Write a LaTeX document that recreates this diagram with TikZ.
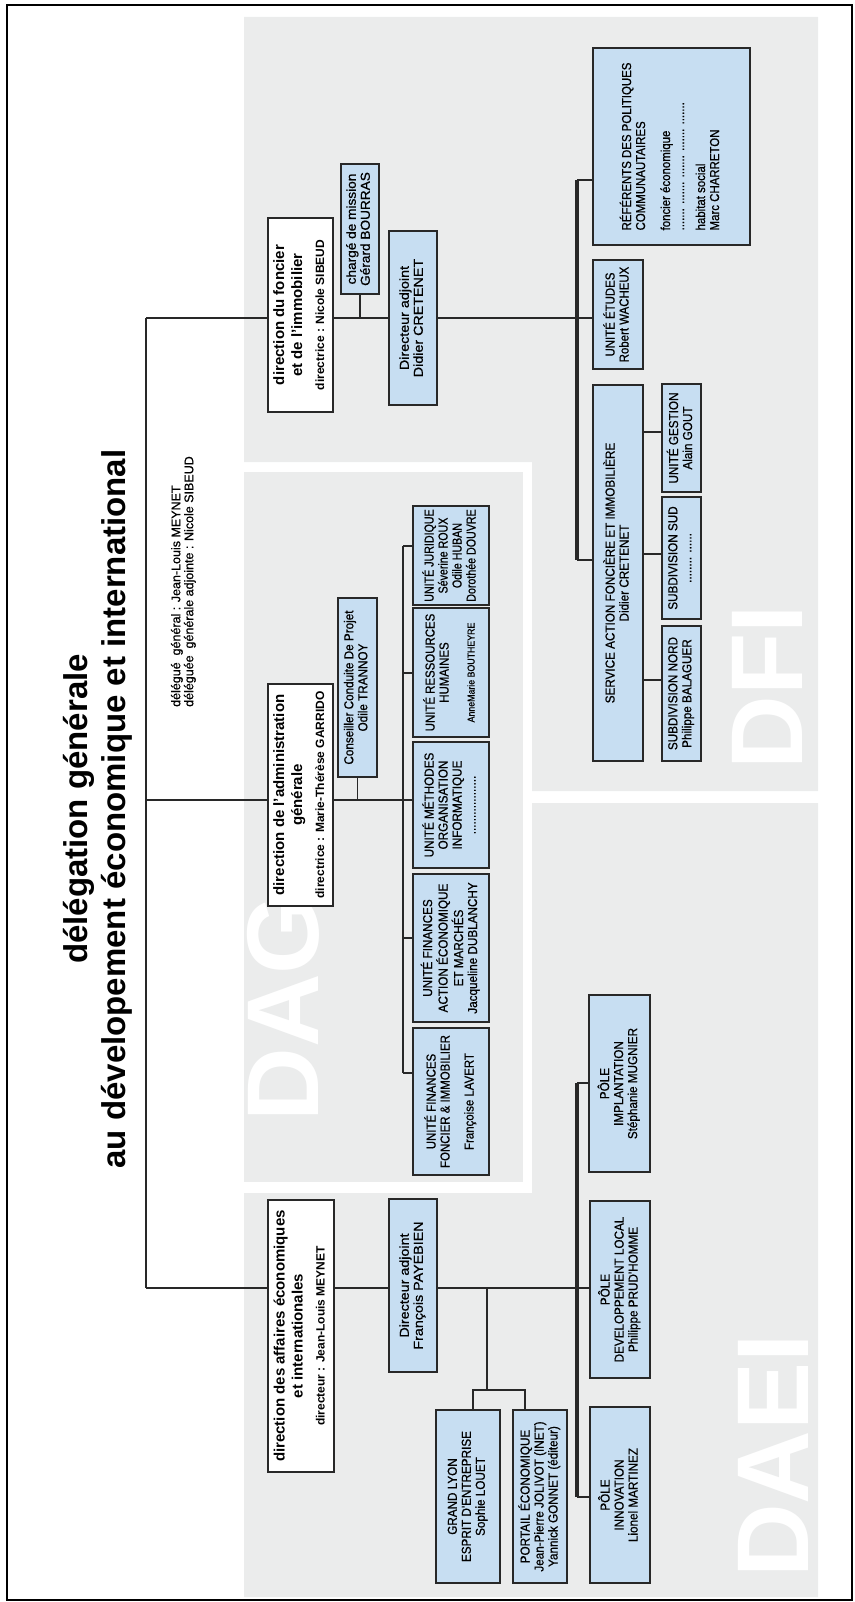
\documentclass[tikz,border=0pt]{standalone}
\usepackage{fontspec}
\setmainfont{Liberation Sans}
\newfontfamily\boxfont[FakeBold=0.8]{Liberation Sans}
\usepackage{graphicx}
\definecolor{panel}{RGB}{235,236,236}
\definecolor{bblue}{RGB}{199,222,242}
\definecolor{bline}{RGB}{40,40,40}
\newcommand\boxtxt[2][0.9]{\scalebox{#1}[1]{\begin{tabular}{@{}c@{}}#2\end{tabular}}}
\newcommand\boxtxtl[2][0.88]{\scalebox{#1}[1]{\begin{tabular}{@{}l@{}}#2\end{tabular}}}
\newcommand\wtxt[1]{\begin{tabular}{@{}c@{}}#1\end{tabular}}
\newcommand\smalltxt{\fontsize{12}{14}\selectfont}
\newcommand\bx[7]{\node[#2, minimum width={#6pt-#5pt}, minimum height={#4pt-#3pt}] (#1) at ({(#3+#4)/2},{(#5+#6)/2}) {#7};}
\pgfdeclarelayer{bg}
\pgfsetlayers{bg,main}
\tikzset{
  bb/.style={draw=bline, fill=bblue, line width=1.4pt, rotate=90, inner sep=0pt, font=\boxfont\fontsize{13}{14}\selectfont},
  wb/.style={draw=bline, fill=white, line width=1.4pt, rotate=90, inner sep=0pt, font=\fontsize{15}{18}\selectfont\bfseries},
  conn/.style={draw=bline, line width=1.2pt},
  barl/.style={draw=bline, line width=4pt},
  barm/.style={draw=bline, line width=2.6pt},
  bigl/.style={rotate=90, text=white, inner sep=0pt, font=\fontsize{102}{102}\selectfont\bfseries},
  ttl/.style={rotate=90, inner sep=0pt, font=\fontsize{33}{36}\selectfont\bfseries},
}
\begin{document}
\begin{tikzpicture}[x=1pt,y=-1pt]
\useasboundingbox (0,0) rectangle (854,1602);
\begin{pgfonlayer}{bg}
\fill[panel] (244,17) -- (818,17) -- (818,791) -- (532,791) -- (532,462) -- (244,462) -- cycle;
\fill[panel] (244,472) rectangle (523,1182);
\fill[panel] (532,803) -- (818,803) -- (818,1597) -- (244,1597) -- (244,1193) -- (532,1193) -- cycle;
\node[bigl, anchor=base] (lDFI) at (802,687) {DFI};
\node[bigl, anchor=base] (lDAG) at (318,1008) {DAG};
\node[bigl, anchor=base] (lDAEI) at (808,1456) {DAEI};
\end{pgfonlayer}
\draw[line width=2.5pt] (7,5) rectangle (852,1600);

% title
\node[ttl, anchor=base] (t1) at (87,809) {délégation générale};
\node[ttl, anchor=base] (t2) at (125,809) {au dévelopement économique et international};
\node[rotate=90, anchor=south west, align=left, inner sep=0pt, font=\boxfont\fontsize{12.5}{13}\selectfont] (dg) at (196,707) {délégué\ \ général : Jean-Louis MEYNET\\déléguée\ \ générale adjointe : Nicole SIBEUD};

% DFI
\bx{dfi}{wb}{268}{333}{218}{412}{\wtxt{direction du foncier\\et de l'immobilier\\[4pt]\smalltxt directrice : Nicole SIBEUD}}
\bx{chm}{bb}{341}{379}{164}{294}{\boxtxt[1.05]{chargé de mission\\Gérard BOURRAS}}
\bx{dfiadj}{bb}{389}{437}{231}{405}{\boxtxt[1.1]{Directeur adjoint\\Didier CRETENET}}
\bx{ref}{bb}{593}{750}{48}{245}{\raisebox{11pt}{\boxtxtl{RÉFÉRENTS DES POLITIQUES\\COMMUNAUTAIRES\\[11pt]foncier économique\\....... ....... ....... ....... .......\\[7pt]habitat social\\Marc CHARRETON}}}
\bx{etu}{bb}{593}{643}{260}{369}{\boxtxt[0.88]{UNITÉ ÉTUDES\\Robert WACHEUX}}
\bx{sva}{bb}{593}{643}{385}{761}{\boxtxt{SERVICE ACTION FONCIÈRE ET IMMOBILIÈRE\\Didier CRETENET}}
\bx{ges}{bb}{662}{701}{384}{492}{\boxtxt{UNITÉ GESTION\\Alain GOUT}}
\bx{sud}{bb}{662}{701}{497}{619}{\boxtxt{SUBDIVISION SUD\\........ ......}}
\bx{nord}{bb}{662}{701}{626}{761}{\boxtxt{SUBDIVISION NORD\\Philippe BALAGUER}}

% DAG
\bx{dag}{wb}{268}{333}{684}{906}{\wtxt{direction de l'administration\\générale\\[4pt]\smalltxt directrice : Marie-Thérèse GARRIDO}}
\bx{cons}{bb}{338}{377}{598}{777}{\boxtxt{Conseiller Conduite De Projet\\Odile TRANNOY}}
\bx{jur}{bb}{413}{489}{506}{605}{\boxtxt[0.82]{UNITÉ JURIDIQUE\\Séverine ROUX\\Odile HUBAN\\Dorothée DOUVRE}}
\bx{rh}{bb}{413}{489}{608}{737}{\boxtxt[0.88]{UNITÉ RESSOURCES\\HUMAINES\\[12pt]{\fontsize{10}{12}\selectfont AnneMarie BOUTHEYRE}}}
\bx{meth}{bb}{413}{489}{742}{868}{\boxtxt{UNITÉ MÉTHODES\\ORGANISATION\\INFORMATIQUE\\..................}}
\bx{fae}{bb}{413}{489}{874}{1022}{\boxtxt{UNITÉ FINANCES\\ACTION ÉCONOMIQUE\\ET MARCHÉS\\Jacqueline DUBLANCHY}}
\bx{ffi}{bb}{413}{489}{1028}{1175}{\boxtxt[0.88]{UNITÉ FINANCES\\FONCIER \& IMMOBILIER\\[10pt]Françoise LAVERT}}

% DAEI
\bx{daei}{wb}{268}{334}{1200}{1472}{\wtxt{direction des affaires économiques\\et internationales\\[4pt]\smalltxt directeur : Jean-Louis MEYNET}}
\bx{daeiadj}{bb}{389}{437}{1199}{1372}{\boxtxt[1.1]{Directeur adjoint\\François PAYEBIEN}}
\bx{gl}{bb}{436}{500}{1410}{1583}{\boxtxt{GRAND LYON\\ESPRIT D'ENTREPRISE\\Sophie LOUET}}
\bx{por}{bb}{513}{567}{1410}{1583}{\boxtxt{PORTAIL ÉCONOMIQUE\\Jean-Pierre JOLIVOT (INET)\\Yannick GONNET (éditeur)}}
\bx{imp}{bb}{589}{650}{995}{1172}{\boxtxt{PÔLE\\IMPLANTATION\\Stéphanie MUGNIER}}
\bx{pdl}{bb}{590}{650}{1201}{1378}{\boxtxt{PÔLE\\DEVELOPPEMENT LOCAL\\Philippe PRUD'HOMME}}
\bx{pin}{bb}{590}{650}{1407}{1583}{\boxtxt{PÔLE\\INNOVATION\\Lionel MARTINEZ}}

\begin{pgfonlayer}{bg}
% main bracket
\coordinate (bT) at (146,318);
\coordinate (bM) at (146,800);
\coordinate (bB) at (146,1288);
\draw[conn] (bT) -- (bB);
\draw[conn] (bT) -- (bT -| dfi.north);
\draw[conn] (bM) -- (bM -| dag.north);
\draw[conn] (bB) -- (bB -| daei.north);
% DFI
\draw[conn] (dfi.south |- bT) -- (dfiadj.north |- bT);
\draw[conn] (chm.west) -- (chm.west |- bT);
\draw[conn] (dfiadj.south |- bT) -- (etu.north |- bT);
\coordinate (fbT) at (577,180);
\coordinate (fbB) at (577,560);
\draw[barl] (fbT) -- (fbB);
\draw[conn] (fbT) -- (ref.north |- fbT);
\draw[conn] (fbB) -- (sva.north |- fbB);
\coordinate (sg) at (0,432);
\coordinate (ss) at (0,554);
\coordinate (sn) at (0,680);
\draw[conn] (sva.south |- sg) -- (ges.north |- sg);
\draw[conn] (sva.south |- ss) -- (sud.north |- ss);
\draw[conn] (sva.south |- sn) -- (nord.north |- sn);
% DAG
\draw[conn] (dag.south |- bM) -- (meth.north |- bM);
\draw[conn] (cons.west) -- (cons.west |- bM);
\coordinate (gbT) at (403,546);
\coordinate (gbB) at (403,1073);
\draw[barm] (gbT) -- (gbB);
\coordinate (grh) at (0,673);
\coordinate (gfa) at (0,938);
\draw[conn] (gbT) -- (jur.north |- gbT);
\draw[conn] (gbT |- grh) -- (rh.north |- grh);
\draw[conn] (gbT |- gfa) -- (fae.north |- gfa);
\draw[conn] (gbB) -- (ffi.north |- gbB);
% DAEI
\draw[conn] (daei.south |- bB) -- (daeiadj.north |- bB);
\draw[conn] (daeiadj.south |- bB) -- (pdl.north |- bB);
\coordinate (ebT) at (577,1083);
\coordinate (ebB) at (577,1497);
\draw[barl] (ebT) -- (ebB);
\draw[conn] (ebT) -- (imp.north |- ebT);
\draw[conn] (ebB) -- (pin.north |- ebB);
\coordinate (br) at (487,1288);
\coordinate (brd) at (487,1390);
\coordinate (bgl) at (473,1390);
\coordinate (bpo) at (525,1390);
\draw[conn] (br) -- (brd);
\draw[conn] (gl.east -| bgl) -- (bgl) -- (bpo) -- (por.east -| bpo);
\end{pgfonlayer}
\end{tikzpicture}
\end{document}
